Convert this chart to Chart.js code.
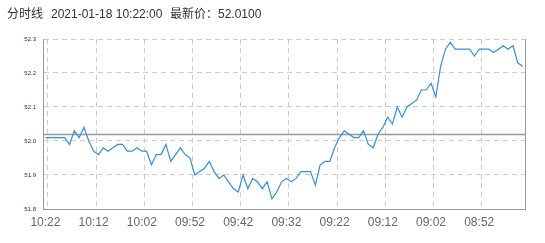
<!DOCTYPE html>
<html><head><meta charset="utf-8">
<script src="https://cdn.jsdelivr.net/npm/chart.js@4"></script>
<style>
html,body{margin:0;padding:0;background:#fff}
#wrap{position:relative;width:545px;height:243px;overflow:hidden}
canvas{position:absolute;left:0;top:0}
.t{position:absolute;top:6px;font-size:12px;font-family:"Liberation Sans","Noto Sans CJK SC",sans-serif;color:#333;white-space:nowrap;line-height:16px}
</style></head>
<body>
<div id="wrap">
<canvas id="c" width="545" height="243"></canvas>
<span class="t" style="left:7px">分时线</span>
<span class="t" style="left:51px">2021-01-18 10:22:00</span>
<span class="t" style="left:170px">最新价：52.0100</span>
</div>
<script>
const times = [
'10:22','10:21','10:20','10:19','10:18','10:17','10:16','10:15','10:14','10:13',
'10:12','10:11','10:10','10:09','10:08','10:07','10:06','10:05','10:04','10:03',
'10:02','10:01','10:00','09:59','09:58','09:57','09:56','09:55','09:54','09:53',
'09:52','09:51','09:50','09:49','09:48','09:47','09:46','09:45','09:44','09:43',
'09:42','09:41','09:40','09:39','09:38','09:37','09:36','09:35','09:34','09:33',
'09:32','09:31','09:30','09:29','09:28','09:27','09:26','09:25','09:24','09:23',
'09:22','09:21','09:20','09:19','09:18','09:17','09:16','09:15','09:14','09:13',
'09:12','09:11','09:10','09:09','09:08','09:07','09:06','09:05','09:04','09:03',
'09:02','09:01','09:00','08:59','08:58','08:57','08:56','08:55','08:54','08:53',
'08:52','08:51','08:50','08:49','08:48','08:47','08:46','08:45','08:44','08:43'
];
const prices = [
52.01,52.01,52.01,52.01,52.01,51.99,52.03,52.01,52.04,52.00,
51.97,51.96,51.98,51.97,51.98,51.99,51.99,51.97,51.97,51.98,
51.97,51.97,51.93,51.96,51.96,51.99,51.94,51.96,51.98,51.96,
51.95,51.90,51.91,51.92,51.94,51.91,51.89,51.90,51.88,51.86,
51.85,51.90,51.86,51.89,51.88,51.86,51.88,51.83,51.85,51.88,
51.89,51.88,51.89,51.91,51.91,51.91,51.87,51.93,51.94,51.94,
51.98,52.01,52.03,52.02,52.01,52.01,52.03,51.99,51.98,52.02,
52.04,52.07,52.05,52.10,52.07,52.10,52.11,52.12,52.15,52.15,
52.17,52.13,52.22,52.27,52.29,52.27,52.27,52.27,52.27,52.25,
52.27,52.27,52.27,52.26,52.27,52.28,52.27,52.28,52.23,52.22
];
const prevClose = 52.022;
const yTicks = [51.8, 51.9, 52.0, 52.1, 52.2, 52.3];

const refLine = {
  id: 'refLine',
  beforeDatasetsDraw(chart) {
    const {ctx, chartArea: a, scales: {y}} = chart;
    const py = Math.round(y.getPixelForValue(prevClose)) + 0.5;
    ctx.save();
    ctx.strokeStyle = '#999';
    ctx.lineWidth = 1.3;
    ctx.beginPath();
    ctx.moveTo(a.left, py);
    ctx.lineTo(a.right, py);
    ctx.stroke();
    ctx.restore();
  }
};

new Chart(document.getElementById('c'), {
  type: 'line',
  data: {
    labels: times,
    datasets: [{
      data: prices,
      borderColor: '#3590db',
      borderWidth: 1.2,
      pointRadius: 0,
      tension: 0,
      fill: false
    }]
  },
  options: {
    responsive: false,
    animation: false,
    plugins: { legend: { display: false }, tooltip: { enabled: false } },
    layout: { padding: { top: 39, right: 20, left: 0, bottom: 0 } },
    scales: {
      x: {
        type: 'category',
        offset: true,
        grid: {
          offset: true,
          drawTicks: false,
          lineWidth: 1,
          color: (c) => (c.index % 10 === 1 ? '#cccccc' : 'rgba(0,0,0,0)')
        },
        border: { color: '#999', width: 1, dash: [5, 4] },
        ticks: {
          autoSkip: false,
          maxRotation: 0,
          padding: 6,
          color: '#666',
          font: { size: 12, family: '"Liberation Sans", Arial, sans-serif' },
          callback: (v, i) => (i % 10 === 0 ? times[i] : '')
        },
        afterFit: (s) => { s.height = 34; }
      },
      y: {
        min: 51.8,
        max: 52.3,
        afterBuildTicks: (s) => { s.ticks = yTicks.map(v => ({ value: v })); },
        grid: { drawTicks: false, color: '#cccccc', lineWidth: 1 },
        border: { color: '#999', width: 1, dash: [5, 4] },
        ticks: {
          padding: 7,
          color: '#1f2a7a',
          font: { size: 6, family: '"Liberation Sans", Arial, sans-serif' },
          callback: (v) => Number(v).toFixed(1)
        },
        afterFit: (s) => { s.width = 43; }
      },
      y2: {
        position: 'right',
        min: 51.8,
        max: 52.3,
        grid: { display: false, drawTicks: false },
        ticks: { display: false },
        border: { color: '#999', width: 1 },
        afterFit: (s) => { s.width = 0; }
      }
    }
  },
  plugins: [refLine]
});
</script>
</body></html>
